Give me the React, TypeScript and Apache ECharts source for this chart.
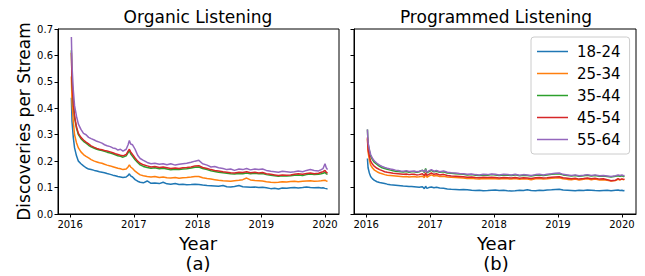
import React, { useEffect, useRef } from "react";
import * as echarts from "echarts";

const AGE_GROUPS = ["18-24", "25-34", "35-44", "45-54", "55-64"];
const COLORS = ["#1f77b4", "#ff7f0e", "#2ca02c", "#d62728", "#9467bd"];
const YEAR_TICKS = [2016, 2017, 2018, 2019, 2020];
const Y_TICKS_MAX = 0.7;

const X = [
  2016.02, 2016.03, 2016.05, 2016.07, 2016.10, 2016.13, 2016.17, 2016.21, 2016.25, 2016.29, 2016.33, 2016.38, 2016.42, 2016.46, 2016.50, 2016.54, 2016.58, 2016.63, 2016.67, 2016.71, 2016.75, 2016.79, 2016.83, 2016.88, 2016.91, 2016.93, 2016.95, 2016.98,
  2017.02, 2017.06, 2017.10, 2017.15, 2017.21, 2017.27, 2017.33, 2017.40, 2017.46, 2017.52, 2017.58, 2017.65, 2017.71, 2017.77, 2017.83, 2017.90, 2017.96,
  2018.02, 2018.08, 2018.15, 2018.21, 2018.27, 2018.33, 2018.40, 2018.46, 2018.52, 2018.58, 2018.65, 2018.71, 2018.77, 2018.83, 2018.90, 2018.96,
  2019.02, 2019.08, 2019.15, 2019.21, 2019.27, 2019.33, 2019.40, 2019.46, 2019.52, 2019.58, 2019.65, 2019.71, 2019.77, 2019.83, 2019.90, 2019.94, 2019.97,
  2020.00, 2020.02, 2020.04,
];

// Organic listening
const O18 = [
  0.44, 0.35, 0.29, 0.25, 0.22, 0.2, 0.19, 0.182, 0.175, 0.17, 0.168, 0.165, 0.163, 0.16, 0.158, 0.156, 0.153, 0.15, 0.147, 0.145, 0.142, 0.14, 0.138, 0.14, 0.146, 0.152, 0.144, 0.14,
  0.13, 0.124, 0.12, 0.118, 0.125, 0.116, 0.117, 0.115, 0.12, 0.114, 0.113, 0.115, 0.112, 0.113, 0.111, 0.112, 0.113,
  0.112, 0.11, 0.108, 0.107, 0.106, 0.105, 0.108, 0.103, 0.102, 0.104, 0.108, 0.103, 0.102, 0.101, 0.102, 0.1,
  0.101, 0.099, 0.096, 0.097, 0.095, 0.098, 0.097, 0.099, 0.1, 0.098, 0.1, 0.102, 0.1, 0.099, 0.1, 0.098, 0.099,
  0.097, 0.096, 0.095,
];
const O25 = [
  0.52, 0.42, 0.35, 0.3, 0.27, 0.25, 0.235, 0.225, 0.218, 0.212, 0.206, 0.2, 0.197, 0.194, 0.192, 0.188, 0.185, 0.182, 0.179, 0.176, 0.173, 0.171, 0.168, 0.17, 0.178, 0.186, 0.178, 0.172,
  0.162, 0.155, 0.148, 0.145, 0.142, 0.14, 0.142, 0.138, 0.14, 0.137, 0.136, 0.138, 0.135, 0.137, 0.138, 0.14, 0.142,
  0.142, 0.137, 0.134, 0.132, 0.13, 0.128, 0.126, 0.125, 0.124, 0.126, 0.128, 0.13, 0.136, 0.129, 0.127, 0.126,
  0.125, 0.122, 0.12, 0.119, 0.12, 0.122, 0.121, 0.123, 0.124, 0.122, 0.124, 0.125, 0.126, 0.124, 0.125, 0.126, 0.127,
  0.128, 0.125, 0.124,
];
const O35 = [
  0.62, 0.51, 0.42, 0.365, 0.325, 0.3, 0.285, 0.275, 0.268, 0.26, 0.254, 0.249, 0.245, 0.242, 0.24, 0.237, 0.234, 0.231, 0.228, 0.224, 0.22, 0.218, 0.215, 0.22, 0.232, 0.24, 0.228, 0.218,
  0.205, 0.195, 0.186, 0.18, 0.176, 0.173, 0.175, 0.171, 0.173, 0.17, 0.167, 0.169, 0.168, 0.17, 0.171, 0.174, 0.177,
  0.178, 0.172, 0.168, 0.164, 0.161, 0.158, 0.156, 0.154, 0.152, 0.151, 0.153, 0.152, 0.155, 0.152, 0.154, 0.152,
  0.153, 0.149, 0.147, 0.145, 0.143, 0.145, 0.144, 0.145, 0.147, 0.148, 0.146, 0.149, 0.151, 0.149, 0.15, 0.152, 0.154,
  0.158, 0.152, 0.15,
];
const O45 = [
  0.61, 0.5, 0.42, 0.37, 0.33, 0.305, 0.29, 0.28, 0.272, 0.265, 0.258, 0.252, 0.248, 0.245, 0.243, 0.24, 0.238, 0.235, 0.232, 0.228, 0.225, 0.222, 0.22, 0.225, 0.238, 0.245, 0.235, 0.225,
  0.212, 0.2, 0.192, 0.186, 0.182, 0.178, 0.18, 0.176, 0.178, 0.175, 0.172, 0.174, 0.172, 0.175, 0.176, 0.178, 0.182,
  0.183, 0.176, 0.172, 0.168, 0.165, 0.163, 0.16, 0.158, 0.156, 0.155, 0.158, 0.157, 0.16, 0.156, 0.158, 0.155,
  0.157, 0.152, 0.15, 0.148, 0.146, 0.148, 0.147, 0.148, 0.15, 0.152, 0.15, 0.153, 0.155, 0.152, 0.154, 0.158, 0.16,
  0.165, 0.158, 0.155,
];
const O55 = [
  0.67, 0.56, 0.47, 0.41, 0.37, 0.34, 0.32, 0.305, 0.3, 0.29, 0.285, 0.28, 0.275, 0.272, 0.268, 0.262, 0.258, 0.255, 0.25, 0.248, 0.242, 0.245, 0.238, 0.245, 0.262, 0.278, 0.265, 0.262,
  0.245, 0.222, 0.21, 0.203, 0.195, 0.19, 0.192, 0.188, 0.19, 0.186, 0.19, 0.185, 0.188, 0.19, 0.192, 0.196, 0.2,
  0.203, 0.19, 0.185, 0.178, 0.18, 0.175, 0.172, 0.168, 0.17, 0.165, 0.17, 0.168, 0.172, 0.167, 0.17, 0.168,
  0.17, 0.165, 0.162, 0.16, 0.158, 0.162, 0.16, 0.158, 0.16, 0.163, 0.16, 0.165, 0.168, 0.165, 0.163, 0.168, 0.172,
  0.19, 0.175, 0.168,
];

// Programmed listening
const P18 = [
  0.21, 0.175, 0.155, 0.142, 0.133, 0.127, 0.122, 0.119, 0.117, 0.115, 0.113, 0.111, 0.11, 0.109, 0.108, 0.107, 0.106, 0.105, 0.104, 0.104, 0.103, 0.102, 0.101, 0.103, 0.096, 0.105, 0.097, 0.1,
  0.102, 0.099, 0.101, 0.098, 0.097, 0.095, 0.094, 0.093, 0.092, 0.093, 0.092, 0.09, 0.089, 0.09, 0.088, 0.089, 0.09,
  0.091, 0.089, 0.09, 0.088, 0.087, 0.088, 0.09, 0.089, 0.092, 0.089, 0.088, 0.09, 0.089, 0.091, 0.092, 0.093,
  0.094, 0.091, 0.09, 0.089, 0.088, 0.09, 0.089, 0.091, 0.09, 0.089, 0.088, 0.089, 0.09, 0.088, 0.09, 0.091, 0.089,
  0.09, 0.088, 0.089,
];
const P25 = [
  0.285, 0.235, 0.205, 0.185, 0.174, 0.166, 0.16, 0.155, 0.152, 0.149, 0.147, 0.146, 0.145, 0.144, 0.143, 0.142, 0.141, 0.142, 0.14, 0.141, 0.142, 0.14, 0.141, 0.143, 0.138, 0.15, 0.139, 0.143,
  0.148, 0.144, 0.146, 0.142, 0.143, 0.14, 0.139, 0.138, 0.137, 0.136, 0.134, 0.135, 0.133, 0.132, 0.134, 0.133, 0.134,
  0.133, 0.132, 0.134, 0.133, 0.132, 0.134, 0.131, 0.133, 0.132, 0.13, 0.133, 0.134, 0.132, 0.133, 0.135, 0.136,
  0.137, 0.133, 0.131, 0.13, 0.132, 0.129, 0.131, 0.133, 0.13, 0.132, 0.129, 0.13, 0.128, 0.125, 0.127, 0.131, 0.129,
  0.132, 0.13, 0.131,
];
const P35 = [
  0.32, 0.265, 0.24, 0.22, 0.205, 0.195, 0.188, 0.18, 0.175, 0.172, 0.169, 0.166, 0.164, 0.162, 0.161, 0.16, 0.159, 0.161, 0.158, 0.16, 0.16, 0.158, 0.16, 0.166, 0.157, 0.172, 0.156, 0.16,
  0.165, 0.16, 0.162, 0.158, 0.16, 0.155, 0.154, 0.152, 0.151, 0.15, 0.148, 0.149, 0.147, 0.146, 0.148, 0.147, 0.149,
  0.148, 0.146, 0.148, 0.147, 0.146, 0.148, 0.145, 0.147, 0.146, 0.144, 0.147, 0.148, 0.146, 0.148, 0.15, 0.151,
  0.152, 0.148, 0.146, 0.144, 0.146, 0.143, 0.145, 0.147, 0.144, 0.146, 0.143, 0.144, 0.142, 0.14, 0.143, 0.145, 0.143,
  0.145, 0.142, 0.143,
];
const P45 = [
  0.29, 0.245, 0.22, 0.2, 0.188, 0.18, 0.173, 0.168, 0.164, 0.16, 0.158, 0.156, 0.154, 0.153, 0.152, 0.151, 0.15, 0.151, 0.149, 0.15, 0.15, 0.148, 0.149, 0.152, 0.145, 0.156, 0.146, 0.15,
  0.155, 0.15, 0.152, 0.148, 0.15, 0.146, 0.144, 0.143, 0.142, 0.141, 0.139, 0.14, 0.138, 0.137, 0.139, 0.138, 0.139,
  0.138, 0.136, 0.138, 0.137, 0.136, 0.138, 0.135, 0.137, 0.136, 0.134, 0.137, 0.138, 0.136, 0.137, 0.139, 0.14,
  0.141, 0.137, 0.135, 0.133, 0.135, 0.132, 0.134, 0.136, 0.133, 0.135, 0.132, 0.133, 0.13, 0.126, 0.128, 0.134, 0.13,
  0.133, 0.131, 0.132,
];
const P55 = [
  0.32, 0.27, 0.245, 0.225, 0.21, 0.2, 0.192, 0.185, 0.18, 0.176, 0.173, 0.17, 0.168, 0.166, 0.165, 0.163, 0.162, 0.164, 0.161, 0.162, 0.163, 0.16, 0.162, 0.165, 0.16, 0.168, 0.158, 0.163,
  0.168, 0.162, 0.165, 0.16, 0.163, 0.158, 0.156, 0.155, 0.153, 0.152, 0.15, 0.151, 0.149, 0.148, 0.15, 0.149, 0.151,
  0.15, 0.148, 0.15, 0.149, 0.148, 0.15, 0.147, 0.149, 0.148, 0.146, 0.149, 0.15, 0.148, 0.15, 0.152, 0.154,
  0.155, 0.15, 0.148, 0.146, 0.148, 0.145, 0.147, 0.149, 0.146, 0.148, 0.145, 0.146, 0.144, 0.142, 0.145, 0.148, 0.146,
  0.148, 0.145, 0.146,
];

const ORGANIC = [O18, O25, O35, O45, O55];
const PROGRAMMED = [P18, P25, P35, P45, P55];

const FONT = "DejaVu Sans";

export default function App() {
  const ref = useRef<HTMLDivElement>(null);
  useEffect(() => {
    document.body.style.margin = "0";
    if (!ref.current) return;
    const chart = echarts.init(ref.current, null, { renderer: "svg" });
    const pairs = (vals: number[]) =>
      vals.map((v, i) => [X[i], v]).filter((p) => p[0] !== undefined);

    const xAxisBase = (gridIndex: number) => ({
      type: "value" as const,
      gridIndex,
      min: 2015.81,
      max: 2020.22,
      axisLine: { show: true, onZero: false, lineStyle: { color: "#000", width: 1 } },
      axisTick: { show: true, length: 3.5, customValues: YEAR_TICKS, lineStyle: { color: "#000" } },
      axisLabel: {
        customValues: YEAR_TICKS,
        color: "#000",
        fontSize: 10,
        fontFamily: FONT,
        margin: 5,
        formatter: (v: number) => String(Math.round(v)),
      },
      splitLine: { show: false },
    });
    const yAxisBase = (gridIndex: number, labels: boolean) => ({
      type: "value" as const,
      gridIndex,
      min: 0,
      max: Y_TICKS_MAX,
      interval: 0.1,
      axisLine: { show: true, lineStyle: { color: "#000", width: 1 } },
      axisTick: { show: true, length: 3.5, lineStyle: { color: "#000" } },
      axisLabel: {
        show: labels,
        color: "#000",
        fontSize: 10,
        fontFamily: FONT,
        margin: 5,
        formatter: (v: number) => v.toFixed(1),
      },
      splitLine: { show: false },
      ...(labels
        ? {
            name: "Discoveries per Stream",
            nameLocation: "middle" as const,
            nameGap: 26,
            nameTextStyle: { fontSize: 17, fontFamily: FONT, color: "#000" },
          }
        : {}),
    });

    const series: any[] = [];
    [ORGANIC, PROGRAMMED].forEach((group, g) => {
      group.forEach((vals, i) => {
        series.push({
          type: "line",
          name: AGE_GROUPS[i],
          xAxisIndex: g,
          yAxisIndex: g,
          data: pairs(vals),
          symbol: "none",
          showSymbol: false,
          lineStyle: { width: 1.5, color: COLORS[i] },
          itemStyle: { color: COLORS[i] },
          color: COLORS[i],
        });
      });
    });

    const lineIcon = "path://M0,0 H31 V1.5 H0 Z";

    chart.setOption({
      animation: false,
      backgroundColor: "#fff",
      textStyle: { fontFamily: FONT },
      grid: [
        { left: 58, right: 306, top: 29, bottom: 62, show: true, borderColor: "#000", borderWidth: 1, backgroundColor: "transparent" },
        { left: 354, right: 9, top: 29, bottom: 62, show: true, borderColor: "#000", borderWidth: 1, backgroundColor: "transparent" },
      ],
      xAxis: [xAxisBase(0), xAxisBase(1)],
      yAxis: [yAxisBase(0, true), yAxisBase(1, false)],
      legend: {
        data: AGE_GROUPS.map((name) => ({ name, icon: lineIcon })),
        orient: "vertical",
        left: 531,
        top: 37,
        itemWidth: 31,
        itemHeight: 14,
        itemGap: 7,
        symbolKeepAspect: true,
        padding: [7, 9, 7, 6],
        borderColor: "#cccccc",
        borderWidth: 1,
        borderRadius: 3,
        backgroundColor: "#fff",
        textStyle: { fontSize: 15, fontFamily: FONT, color: "#000", padding: [0, 0, 0, 4] },
      },
      graphic: [
        { type: "text", x: 198, y: 17, style: { text: "Organic Listening", font: `17px "${FONT}"`, fill: "#000", align: "center", verticalAlign: "middle" } },
        { type: "text", x: 496, y: 17, style: { text: "Programmed Listening", font: `17px "${FONT}"`, fill: "#000", align: "center", verticalAlign: "middle" } },
        { type: "text", x: 198, y: 243, style: { text: "Year", font: `18px "${FONT}"`, fill: "#000", align: "center", verticalAlign: "middle" } },
        { type: "text", x: 198, y: 263, style: { text: "(a)", font: `18px "${FONT}"`, fill: "#000", align: "center", verticalAlign: "middle" } },
        { type: "text", x: 496, y: 243, style: { text: "Year", font: `18px "${FONT}"`, fill: "#000", align: "center", verticalAlign: "middle" } },
        { type: "text", x: 496, y: 263, style: { text: "(b)", font: `18px "${FONT}"`, fill: "#000", align: "center", verticalAlign: "middle" } },
      ],
      series,
    });
    return () => chart.dispose();
  }, []);
  return <div ref={ref} style={{ width: 645, height: 276 }} />;
}
